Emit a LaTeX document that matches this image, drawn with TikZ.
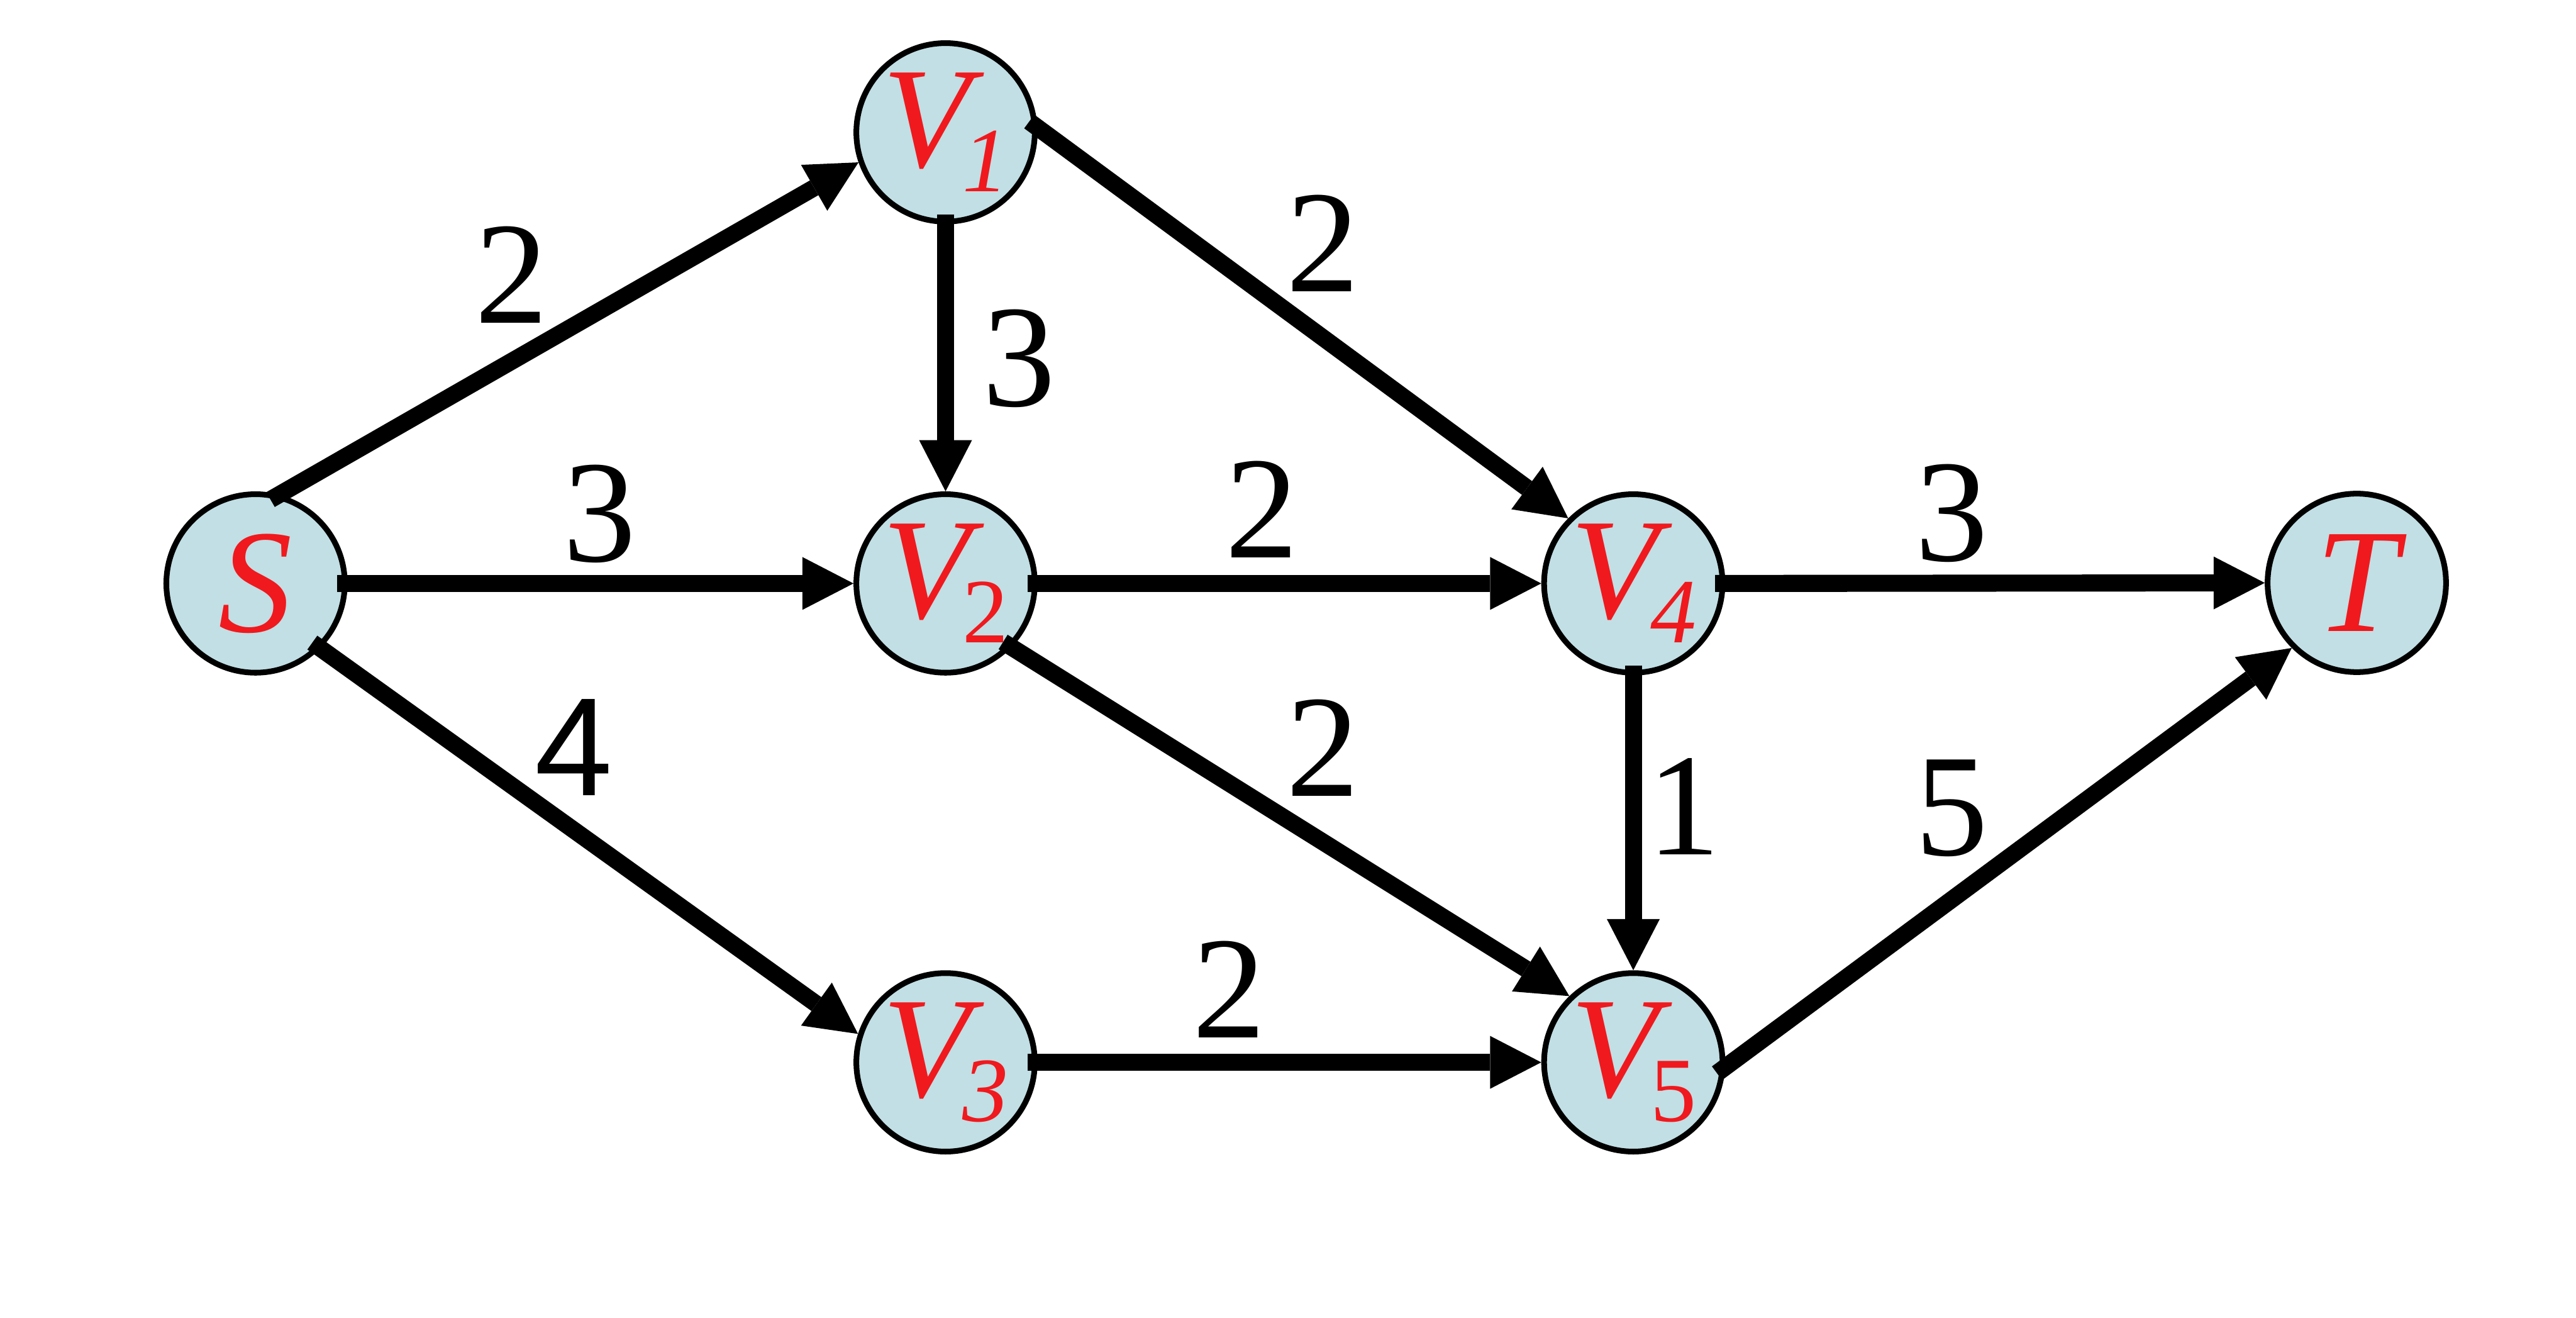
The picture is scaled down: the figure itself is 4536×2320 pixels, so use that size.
\documentclass[tikz,border=0pt]{standalone}
\usepackage{fontspec}
\setmainfont{Liberation Serif}
\newfontfamily\sansdigit{Liberation Sans}
\usetikzlibrary{arrows.meta}
\definecolor{nodefill}{RGB}{193,223,228}
\definecolor{labred}{RGB}{240,25,30}
\newcommand{\Vsub}[1]{{\fontsize{72}{72}\selectfont\itshape V}\kern-0.14cm\raisebox{-0.43cm}{\fontsize{46}{46}\selectfont #1}}
\begin{document}
\begin{tikzpicture}[x=0.01cm,y=-0.01cm,
  vert/.style={circle,draw=black,line width=0.1cm,fill=nodefill,minimum size=3.14cm,inner sep=0pt},
  vtext/.style={text=labred,inner sep=0pt},
  edge/.style={line width=0.3cm,-{Triangle[length=0.9cm,width=0.93cm,line width=0pt]},shorten <=-0.18cm},
  wlab/.style={inner sep=0pt,font=\fontsize{73}{73}\selectfont}]
\useasboundingbox (0,0) rectangle (4536,2320);
\fill[white] (0,0) rectangle (4536,2320);
% vertices
\node[vert] (S)  at (450,1027) {};
\node[vert] (V1) at (1665,233) {};
\node[vert] (V2) at (1665,1027) {};
\node[vert] (V3) at (1665,1870) {};
\node[vert] (V4) at (2876,1027) {};
\node[vert] (V5) at (2876,1870) {};
\node[vert] (T)  at (4150,1026) {};
% vertex names
\node[vtext] (tS)  at (S)  {\fontsize{74}{74}\selectfont\itshape S};
\node[vtext] (tV1) at (V1) {\Vsub{\itshape 1}};
\node[vtext] (tV2) at (V2) {\Vsub{\upshape 2}};
\node[vtext] (tV3) at (V3) {\Vsub{\itshape 3}};
\node[vtext] (tV4) at (V4) {\Vsub{\itshape 4}};
\node[vtext] (tV5) at (V5) {\Vsub{\upshape 5}};
\node[vtext] (tT)  at (T)  {\fontsize{74}{74}\selectfont\itshape T};
% edges
\draw[edge] (S.75)  -- (V1.199);
\draw[edge] (S.east) -- (V2.west);
\draw[edge] (S.-45) -- (V3.162);
\draw[edge] (V1.south) -- (V2.north);
\draw[edge] (V1.3) -- (V4.135);
\draw[edge] (V2.east) -- (V4.west);
\draw[edge] (V2.-44) -- (V5.134);
\draw[edge] (V3.east) -- (V5.west);
\draw[edge] (V4.east) -- (T.west);
\draw[edge] (V4.south) -- (V5.north);
\draw[edge] (V5.-3) -- (T.225);
% weights
\node[wlab] (w1)  at (901,484)   {2};
\node[wlab] (w2)  at (1056,905)  {3};
\node[wlab] (w3)  at (1010,1316) {\sansdigit\fontsize{70}{70}\selectfont 4};
\node[wlab] (w4)  at (1794,631)  {3};
\node[wlab] (w5)  at (2329,428)  {2};
\node[wlab] (w6)  at (2222,897)  {2};
\node[wlab] (w7)  at (2329,1316) {2};
\node[wlab] (w8)  at (2164,1742) {2};
\node[wlab] (w9)  at (3437,903)  {3};
\node[wlab] (w10) at (2965,1420) {1};
\node[wlab] (w11) at (3437,1423) {5};
\end{tikzpicture}
\end{document}
